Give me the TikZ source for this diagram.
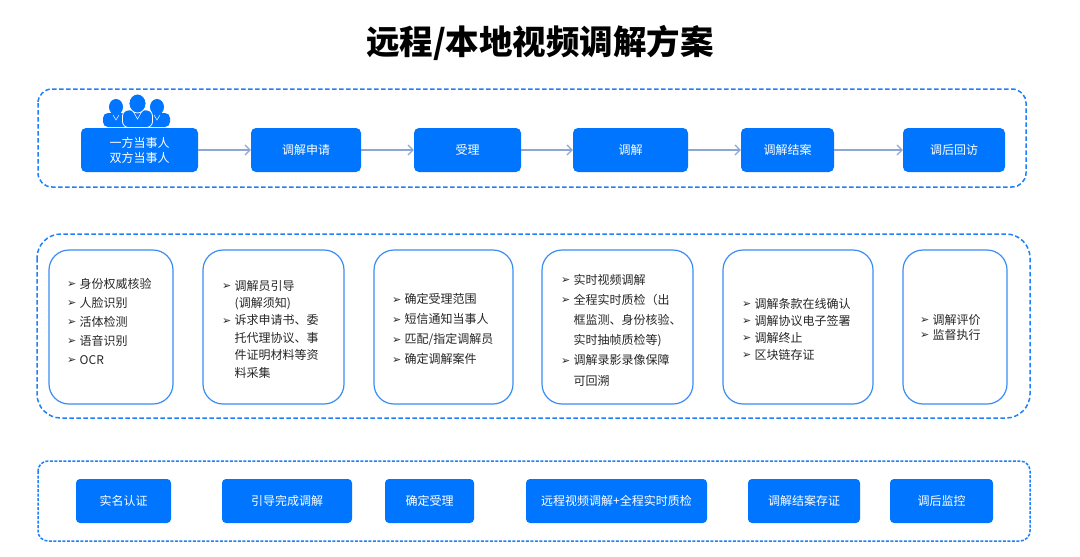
\documentclass[tikz,border=0pt]{standalone}
\usepackage{fontspec}
\setmainfont{Noto Sans CJK SC}
\newfontfamily\bulletfont{DejaVu Sans}
\usetikzlibrary{arrows.meta}
\usetikzlibrary{positioning}
\definecolor{boxblue}{RGB}{0,117,255}
\definecolor{frameblue}{RGB}{30,128,250}
\definecolor{cardblue}{RGB}{58,140,246}
\definecolor{arrowgray}{RGB}{140,166,214}
\tikzstyle{stage}=[rectangle,rounded corners=5pt,fill=boxblue,text=white,font=\fontsize{12}{15}\selectfont,inner sep=0pt,align=center]
\tikzstyle{card}=[rectangle,rounded corners=20pt,draw=cardblue,line width=1.2pt,fill=white,inner sep=0pt]
\tikzstyle{dashframe}=[draw=frameblue,line width=1.5pt,dash pattern=on 4.5pt off 2.5pt]
\tikzstyle{flow}=[draw=arrowgray,line width=1.2pt,-{Straight Barb[length=5pt,width=10pt]}]
\tikzstyle{items}=[anchor=west,inner sep=0pt,align=left,text=black!85]
\newcommand{\bul}{\makebox[12.5pt][l]{\raisebox{0.5pt}{\bulletfont\fontsize{11}{11}\selectfont ➢}}}
\newcommand{\ind}{\hspace*{12.5pt}}

\begin{document}
\begin{tikzpicture}[x=1pt,y=-1pt]
    \useasboundingbox (0,0) rectangle (1080,557);
    \fill[white] (0,0) rectangle (1080,557);
    % Title
    \node[font=\fontsize{33.5}{38}\selectfont\bfseries] (title) at (540,43) {远程/本地视频调解方案};

    % The three dashed frames
    \draw[dashframe, rounded corners=14pt] (38,89) rectangle (1026,187);
    \draw[dashframe, rounded corners=24pt] (37,234) rectangle (1030,418);
    \draw[dashframe, rounded corners=10pt, dash pattern=on 3pt off 1.5pt] (38,461) rectangle (1030,541);

    % Parties icon
    \foreach \x in {116, 157} {
        \fill[boxblue, rounded corners=5pt] (\x-13,127) rectangle (\x+13,113);
        \fill[boxblue] (\x,107) ellipse [x radius=7, y radius=8];
        \draw[white, line width=0.5pt] (\x-3,115) -- (\x,120) -- (\x+3,115);
    }
    \fill[boxblue, draw=white, line width=0.8pt, rounded corners=6pt] (122.5,127.5) rectangle (152.5,110);
    \fill[boxblue, draw=white, line width=0.8pt] (137.5,103.5) ellipse [x radius=8.5, y radius=9.5];
    \draw[white, line width=0.5pt] (133.5,112) -- (137.5,119) -- (141.5,112);

    % Process steps
    \foreach \pos/\name/\w/\label in {{(139.5,150)/party/117/{一方当事人\\双方当事人}}, {(306,150)/apply/110/调解申请},
        {(467.5,150)/accept/107/受理}, {(630.5,150)/mediate/115/调解}, {(787.5,150)/settle/93/调解结案}, {(954,150)/revisit/102/调后回访}}
        \node[stage, minimum width=\w pt, minimum height=44pt] (\name) at \pos {\label};

    % Connect steps with arrows
    \foreach \source/ \dest in {party/apply, apply/accept, accept/mediate, mediate/settle, settle/revisit}
        \path[flow] (\source) -- (\dest);

    % Detail cards
    \foreach \pos/\name/\w in {(111,327)/c1/124, (273.5,327)/c2/141, (443.5,327)/c3/139,
        (617.5,327)/c4/151, (798,327)/c5/150, (955,327)/c6/104}
        \node[card, minimum width=\w pt, minimum height=154pt] (\name) at \pos {};

    \node[items, font=\fontsize{12}{19}\selectfont] (t1) at (67,321) {\bul 身份权威核验\\\bul 人脸识别\\\bul 活体检测\\\bul 语音识别\\\bul OCR};
    \node[items, font=\fontsize{12}{17.4}\selectfont] (t2) at (222,329) {\bul 调解员引导\\\ind(调解须知)\\\bul 诉求申请书、委\\\ind 托代理协议、事\\\ind 件证明材料等资\\\ind 料采集};
    \node[items, font=\fontsize{12}{20}\selectfont] (t3) at (392,329) {\bul 确定受理范围\\\bul 短信通知当事人\\\bul 匹配/指定调解员\\\bul 确定调解案件};
    \node[items, font=\fontsize{12}{20.2}\selectfont] (t4) at (561,330) {\bul 实时视频调解\\\bul 全程实时质检（出\\\ind 框监测、身份核验、\\\ind 实时抽帧质检等)\\\bul 调解录影录像保障\\\ind 可回溯};
    \node[items, font=\fontsize{12}{17}\selectfont] (t5) at (742,329) {\bul 调解条款在线确认\\\bul 调解协议电子签署\\\bul 调解终止\\\bul 区块链存证};
    \node[items, font=\fontsize{12}{15}\selectfont] (t6) at (920,327) {\bul 调解评价\\\bul 监督执行};

    % Outcomes
    \foreach \pos/\name/\w/\label in {(123.5,501)/realname/95/实名认证, (287,501)/guided/130/引导完成调解, (429.5,501)/accepted/89/确定受理,
        (616.5,501)/remote/181/远程视频调解+全程实时质检, (804,501)/archived/112/调解结案存证, (941.5,501)/monitor/103/调后监控}
        \node[stage, rounded corners=4pt, minimum width=\w pt, minimum height=44pt] (\name) at \pos {\label};
\end{tikzpicture}
\end{document}
